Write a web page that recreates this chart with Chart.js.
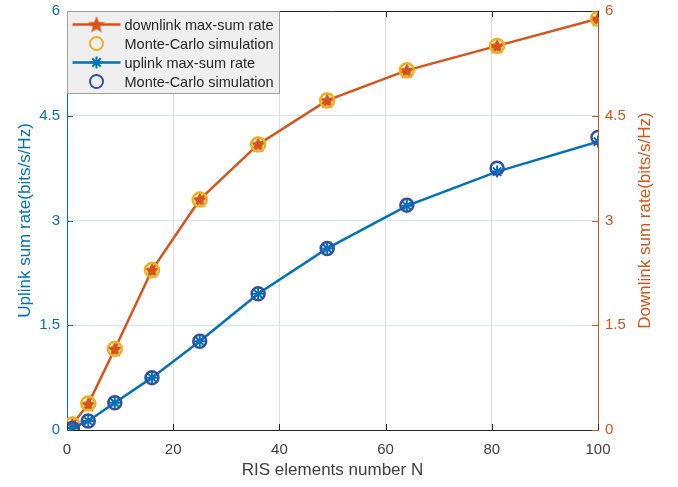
<!DOCTYPE html>
<html>
<head>
<meta charset="utf-8">
<script src="https://cdn.jsdelivr.net/npm/chart.js@4.4.1/dist/chart.umd.min.js"></script>
<style>
  html, body { margin: 0; padding: 0; background: #ffffff; }
  #wrap { width: 678px; height: 487px; }
</style>
</head>
<body>
<div id="wrap"><canvas id="chart" width="678" height="487"></canvas></div>
<script>
// RIS elements N (x axis)
const ris = [1, 4, 9, 16, 25, 36, 49, 64, 81, 100];

// sum rates (bits/s/Hz)
const downlinkRate = [0.08, 0.37, 1.16, 2.29, 3.30, 4.09, 4.72, 5.15, 5.50, 5.89];
const downlinkMC   = [0.08, 0.38, 1.16, 2.29, 3.30, 4.09, 4.72, 5.15, 5.50, 5.89];
const uplinkRate   = [0.03, 0.13, 0.39, 0.75, 1.27, 1.95, 2.60, 3.21, 3.70, 4.13];
const uplinkMC     = [0.02, 0.13, 0.39, 0.75, 1.27, 1.95, 2.60, 3.22, 3.75, 4.19];

const xTicks = [0, 20, 40, 60, 80, 100];
const yTicks = [0, 1.5, 3, 4.5, 6];

const BLUE = '#0072BD';
const ORANGE = '#D95319';
const YELLOW = '#EDB120';
const NAVY = '#3450a4';
const FONT = '"Liberation Sans", Arial, Helvetica, sans-serif';

const pts = (ys) => ris.map((n, i) => ({ x: n, y: ys[i] }));

// filled five-point star used as marker
const makeStar = (r, color) => {
  const c = document.createElement('canvas');
  const s = Math.ceil(r * 2 + 2);
  c.width = s; c.height = s;
  const g = c.getContext('2d');
  g.beginPath();
  for (let i = 0; i < 10; i++) {
    const rad = i % 2 === 0 ? r : r * 0.42;
    const a = -Math.PI / 2 + i * Math.PI / 5;
    const px = s / 2 + rad * Math.cos(a), py = s / 2 + 0.6 + rad * Math.sin(a);
    i === 0 ? g.moveTo(px, py) : g.lineTo(px, py);
  }
  g.closePath();
  g.fillStyle = color;
  g.fill();
  return c;
};
const starImg = makeStar(9, ORANGE);

// inward tick marks, top border, right title and legend
const decor = {
  id: 'decor',
  afterDraw(chart) {
    const { ctx, chartArea: a, scales } = chart;
    ctx.save();
    ctx.lineWidth = 1;
    // top frame line
    ctx.strokeStyle = '#262626';
    ctx.beginPath();
    ctx.moveTo(a.left, a.top + 0.5);
    ctx.lineTo(a.right, a.top + 0.5);
    ctx.stroke();
    // x ticks (bottom + top)
    xTicks.forEach(v => {
      const px = Math.round(scales.x.getPixelForValue(v)) + 0.5;
      ctx.beginPath();
      ctx.moveTo(px, a.bottom); ctx.lineTo(px, a.bottom - 6);
      ctx.moveTo(px, a.top); ctx.lineTo(px, a.top + 6);
      ctx.stroke();
    });
    // left ticks
    ctx.strokeStyle = BLUE;
    yTicks.forEach(v => {
      const py = Math.round(scales.y.getPixelForValue(v)) + 0.5;
      ctx.beginPath(); ctx.moveTo(a.left, py); ctx.lineTo(a.left + 6, py); ctx.stroke();
    });
    // right ticks
    ctx.strokeStyle = ORANGE;
    yTicks.forEach(v => {
      const py = Math.round(scales.y2.getPixelForValue(v)) + 0.5;
      ctx.beginPath(); ctx.moveTo(a.right, py); ctx.lineTo(a.right - 6, py); ctx.stroke();
    });
    // right axis title, reads bottom to top
    ctx.save();
    ctx.translate(645, (a.top + a.bottom) / 2);
    ctx.rotate(-Math.PI / 2);
    ctx.fillStyle = ORANGE;
    ctx.font = '17px ' + FONT;
    ctx.textAlign = 'center';
    ctx.textBaseline = 'middle';
    ctx.fillText('Downlink sum rate(bits/s/Hz)', 0, 0);
    ctx.restore();

    // legend box inside the axes, top-left
    const bx = a.left + 0.5, by = a.top + 0.5, bw = 212, bh = 82;
    ctx.fillStyle = '#efeff0';
    ctx.fillRect(bx, by, bw, bh);
    ctx.strokeStyle = '#a0a0a0';
    ctx.strokeRect(bx, by, bw, bh);
    const rows = [13, 32, 51, 70];
    ctx.font = '14.5px ' + FONT;
    ctx.textBaseline = 'middle';
    ctx.textAlign = 'left';
    chart.data.datasets.forEach((ds, i) => {
      const ry = by + rows[i];
      const mx = bx + 29;
      if (ds.showLine !== false) {
        ctx.strokeStyle = ds.borderColor;
        ctx.lineWidth = 2.5;
        ctx.beginPath(); ctx.moveTo(bx + 5, ry); ctx.lineTo(bx + 53, ry); ctx.stroke();
      }
      if (ds.pointStyle === starImg) {
        ctx.drawImage(starImg, mx - starImg.width / 2, ry - starImg.height / 2);
      } else if (ds.pointStyle === 'star') {
        ctx.strokeStyle = ds.pointBorderColor;
        ctx.lineWidth = 2;
        const r = 6, d = r * Math.SQRT1_2;
        ctx.beginPath();
        ctx.moveTo(mx - r, ry); ctx.lineTo(mx + r, ry);
        ctx.moveTo(mx, ry - r); ctx.lineTo(mx, ry + r);
        ctx.moveTo(mx - d, ry - d); ctx.lineTo(mx + d, ry + d);
        ctx.moveTo(mx - d, ry + d); ctx.lineTo(mx + d, ry - d);
        ctx.stroke();
      } else {
        ctx.strokeStyle = ds.pointBorderColor;
        ctx.lineWidth = 2;
        ctx.beginPath(); ctx.arc(mx, ry, 6.5, 0, Math.PI * 2); ctx.stroke();
      }
      ctx.fillStyle = '#262626';
      ctx.fillText(ds.label, bx + 57, ry + 1);
    });
    ctx.restore();
  }
};

// fixed axis size and no extra label padding at the ends
const fixY = (w) => (s) => { s.width = w; s.paddingTop = 0; s.paddingBottom = 0; };

new Chart(document.getElementById('chart').getContext('2d'), {
  type: 'line',
  data: {
    datasets: [
      {
        label: 'downlink max-sum rate',
        data: pts(downlinkRate),
        yAxisID: 'y2',
        borderColor: ORANGE,
        borderWidth: 2.5,
        pointStyle: starImg,
        pointBorderColor: ORANGE,
        order: 4
      },
      {
        label: 'Monte-Carlo simulation',
        data: pts(downlinkMC),
        yAxisID: 'y2',
        showLine: false,
        borderColor: YELLOW,
        pointStyle: 'circle',
        pointRadius: 7,
        pointBorderWidth: 2.5,
        pointBorderColor: YELLOW,
        pointBackgroundColor: 'rgba(0,0,0,0)',
        order: 3
      },
      {
        label: 'uplink max-sum rate',
        data: pts(uplinkRate),
        yAxisID: 'y',
        borderColor: BLUE,
        borderWidth: 2.5,
        pointStyle: 'star',
        pointRadius: 6,
        pointBorderWidth: 2,
        pointBorderColor: BLUE,
        order: 2
      },
      {
        label: 'Monte-Carlo simulation',
        data: pts(uplinkMC),
        yAxisID: 'y',
        showLine: false,
        borderColor: NAVY,
        pointStyle: 'circle',
        pointRadius: 6.5,
        pointBorderWidth: 2.5,
        pointBorderColor: NAVY,
        pointBackgroundColor: 'rgba(0,0,0,0)',
        order: 1
      }
    ]
  },
  options: {
    responsive: false,
    animation: false,
    layout: { padding: { top: 11, left: 0, right: 0, bottom: 0 } },
    plugins: { legend: { display: false }, tooltip: { enabled: false } },
    elements: { line: { tension: 0 } },
    scales: {
      x: {
        type: 'linear', min: 0, max: 100,
        afterFit: (s) => { s.height = 57; s.paddingLeft = 0; s.paddingRight = 0; },
        afterBuildTicks: (s) => { s.ticks = xTicks.map(v => ({ value: v })); },
        ticks: { color: '#404040', font: { family: FONT, size: 15 }, padding: 11, maxRotation: 0 },
        grid: { color: '#dedede', drawTicks: false },
        border: { color: '#262626', width: 1 },
        title: {
          display: true, text: 'RIS elements number N', color: '#404040',
          font: { family: FONT, size: 17 }, padding: { top: 0, bottom: 6 }
        }
      },
      y: {
        position: 'left', min: 0, max: 6,
        afterFit: fixY(67),
        afterBuildTicks: (s) => { s.ticks = yTicks.map(v => ({ value: v })); },
        ticks: { color: BLUE, font: { family: FONT, size: 15 }, padding: 7 },
        grid: { color: '#d3e6f2', drawTicks: false },
        border: { color: BLUE, width: 1 },
        title: {
          display: true, text: 'Uplink sum rate(bits/s/Hz)', color: BLUE,
          font: { family: FONT, size: 17 }, padding: { top: 15, bottom: 0 }
        }
      },
      y2: {
        position: 'right', min: 0, max: 6,
        afterFit: fixY(80),
        afterBuildTicks: (s) => { s.ticks = yTicks.map(v => ({ value: v })); },
        ticks: { color: ORANGE, font: { family: FONT, size: 15 }, padding: 7 },
        grid: { display: false, drawTicks: false },
        border: { color: ORANGE, width: 1 }
      }
    }
  },
  plugins: [decor]
});
</script>
</body>
</html>
